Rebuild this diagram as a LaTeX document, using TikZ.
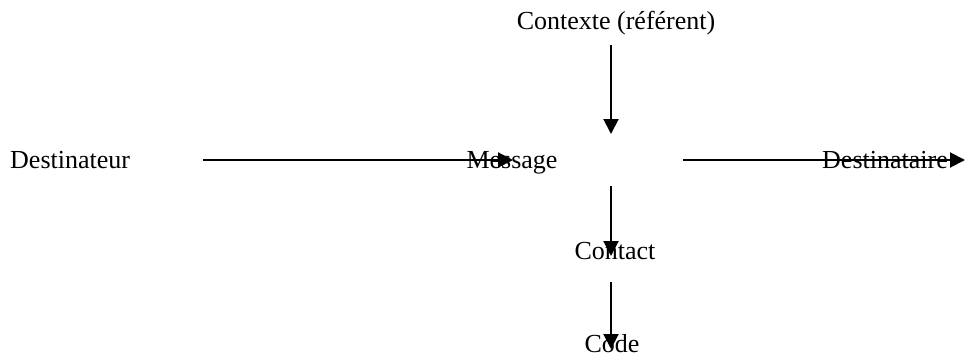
\documentclass[tikz,border=0pt]{standalone}
\usepackage{fontspec}
\setmainfont{Liberation Serif}
\usetikzlibrary{arrows.meta}
\begin{document}
\begin{tikzpicture}[x=1pt,y=-1pt,
  lbl/.style={inner sep=0pt,anchor=base,font=\fontsize{26}{30}\selectfont},
  conn/.style={line width=2pt,-{Triangle[length=15pt,width=15pt]}}]
\useasboundingbox (0,0) rectangle (965,356);
\node[lbl] (ctx) at (616,29) {Contexte (référent)};
\node[lbl,anchor=base west] (dst) at (10,168) {Destinateur};
\node[lbl] (msg) at (512,168) {Message};
\node[lbl] (dsta) at (885,168) {Destinataire};
\node[lbl] (ctc) at (615,259) {Contact};
\node[lbl] (code) at (612,352) {Code};
\coordinate (a1s) at (611,45);
\coordinate (a1e) at (611,134);
\coordinate (a2s) at (203,160);
\coordinate (a2e) at (513,160);
\coordinate (a3s) at (683,160);
\coordinate (a3e) at (965,160);
\coordinate (a4s) at (611,186);
\coordinate (a4e) at (611,256);
\coordinate (a5s) at (611,282);
\coordinate (a5e) at (611,349);
\draw[conn] (a1s) -- (a1e);
\draw[conn] (a2s) -- (a2e);
\draw[conn] (a3s) -- (a3e);
\draw[conn] (a4s) -- (a4e);
\draw[conn] (a5s) -- (a5e);
\end{tikzpicture}
\end{document}
